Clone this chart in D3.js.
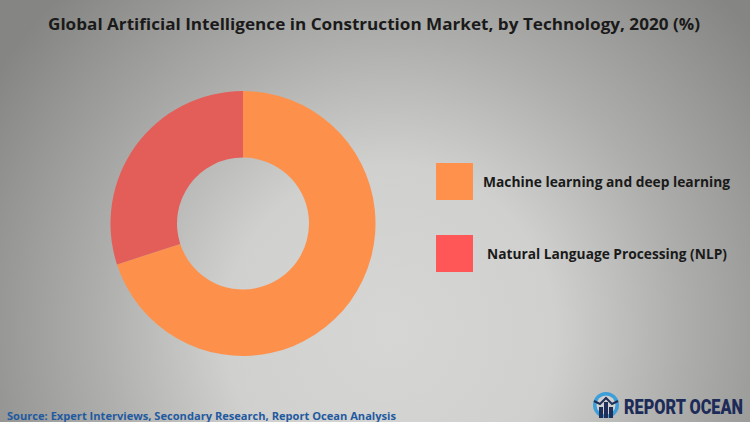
<!DOCTYPE html>
<html><head><meta charset="utf-8">
<script src="https://cdn.jsdelivr.net/npm/d3@7"></script>
<style>html,body{margin:0;padding:0;overflow:hidden;}svg{display:block;}</style>
</head><body>
<svg id="chart" width="750" height="422"></svg>
<script>
const titleText = "Global Artificial Intelligence in Construction Market, by Technology, 2020 (%)";
const categories = ["Machine learning and deep learning", "Natural Language Processing (NLP)"];
const values = [70, 30];
const sliceColors = ["#FD914C", "#E35E58"];
const legendColors = ["#FF914D", "#FF5757"];
const sourceText = "Source: Expert Interviews, Secondary Research, Report Ocean Analysis";
const brandText = "REPORT OCEAN";

const W = 750, H = 422;
const svg = d3.select("#chart");
const defs = svg.append("defs");

const grad = defs.append("radialGradient").attr("id","bg")
  .attr("gradientUnits","userSpaceOnUse")
  .attr("cx",390).attr("cy",330).attr("r",470)
  .attr("fx",390).attr("fy",330);
grad.append("stop").attr("offset","0").attr("stop-color","#d6d6d4");
grad.append("stop").attr("offset","0.35").attr("stop-color","#d0d0ce");
grad.append("stop").attr("offset","0.62").attr("stop-color","#aeaeac");
grad.append("stop").attr("offset","1").attr("stop-color","#858583");
svg.append("rect").attr("width",W).attr("height",H).attr("fill","url(#bg)");

// Title
const title = svg.append("text").attr("x",48).attr("y",30)
  .attr("font-family","'Open Sans', sans-serif").attr("font-weight",700)
  .attr("font-size",16.5).attr("fill","#1a1a1a").text(titleText);
const tw = title.node().getComputedTextLength();
if (Math.abs(tw-652)>3) title.attr("textLength",652).attr("lengthAdjust","spacingAndGlyphs");

// Donut
const cx = 243, cy = 223.5, rOuter = 132.5, rInner = 66;
const pie = d3.pie().sort(null).value(d=>d)(values);
const arc = d3.arc().innerRadius(rInner).outerRadius(rOuter);
svg.append("g").attr("transform",`translate(${cx},${cy})`)
  .selectAll("path").data(pie).join("path")
  .attr("d",arc).attr("fill",(d,i)=>sliceColors[i]);

// Legend
const legY = d3.scalePoint().domain(categories).range([163,235]);
const leg = svg.append("g").selectAll("g").data(categories).join("g");
leg.append("rect").attr("x",436).attr("y",d=>legY(d)).attr("width",37).attr("height",37)
  .attr("fill",(d,i)=>legendColors[i]);
const textX = [483, 487], textW = [247, 240];
leg.append("text").attr("x",(d,i)=>textX[i]).attr("y",d=>legY(d)+24)
  .attr("font-family","'Open Sans', sans-serif").attr("font-weight",700)
  .attr("font-size",14).attr("fill","#1a1a1a").text(d=>d)
  .each(function(d,i){
    const w=this.getComputedTextLength();
    if(Math.abs(w-textW[i])>3) d3.select(this).attr("textLength",textW[i]).attr("lengthAdjust","spacingAndGlyphs");
  });

// Source
const src = svg.append("text").attr("x",7).attr("y",420)
  .attr("font-family","'Open Sans', sans-serif").attr("font-weight",700)
  .attr("font-size",10.5).attr("fill","#1f5aa0").text(sourceText);
const sw = src.node().getComputedTextLength();
if (Math.abs(sw-389)>3) src.attr("textLength",389).attr("lengthAdjust","spacingAndGlyphs");

// Logo icon
const lg = svg.append("g").attr("transform","translate(606,405)");
lg.append("circle").attr("r",13).attr("fill","#3d9fd9");
lg.append("circle").attr("r",9.5).attr("fill","#d0d0ce");
lg.append("path").attr("d","M-12,-4 L-6,-1 L0,-7 L6,-1 L12,-4").attr("fill","none").attr("stroke","#1f2f5a").attr("stroke-width",2);
[[-7,2,4,11],[-2,-3,4,16],[3,2,4,11]].forEach(b=>{
  lg.append("rect").attr("x",b[0]).attr("y",b[1]).attr("width",b[2]).attr("height",b[3]).attr("fill","#1f2f5a");
});

// Brand (horizontally condensed via transform)
const brG = svg.append("g");
const br = brG.append("text").attr("x",0).attr("y",0)
  .attr("font-family","Roboto, sans-serif").attr("font-weight",900)
  .attr("font-size",21).attr("fill","#1c2b57").text(brandText);
const bw = br.node().getComputedTextLength();
const sx = 119 / bw;
brG.attr("transform",`translate(624,414) scale(${sx},1)`);
</script>
</body></html>
